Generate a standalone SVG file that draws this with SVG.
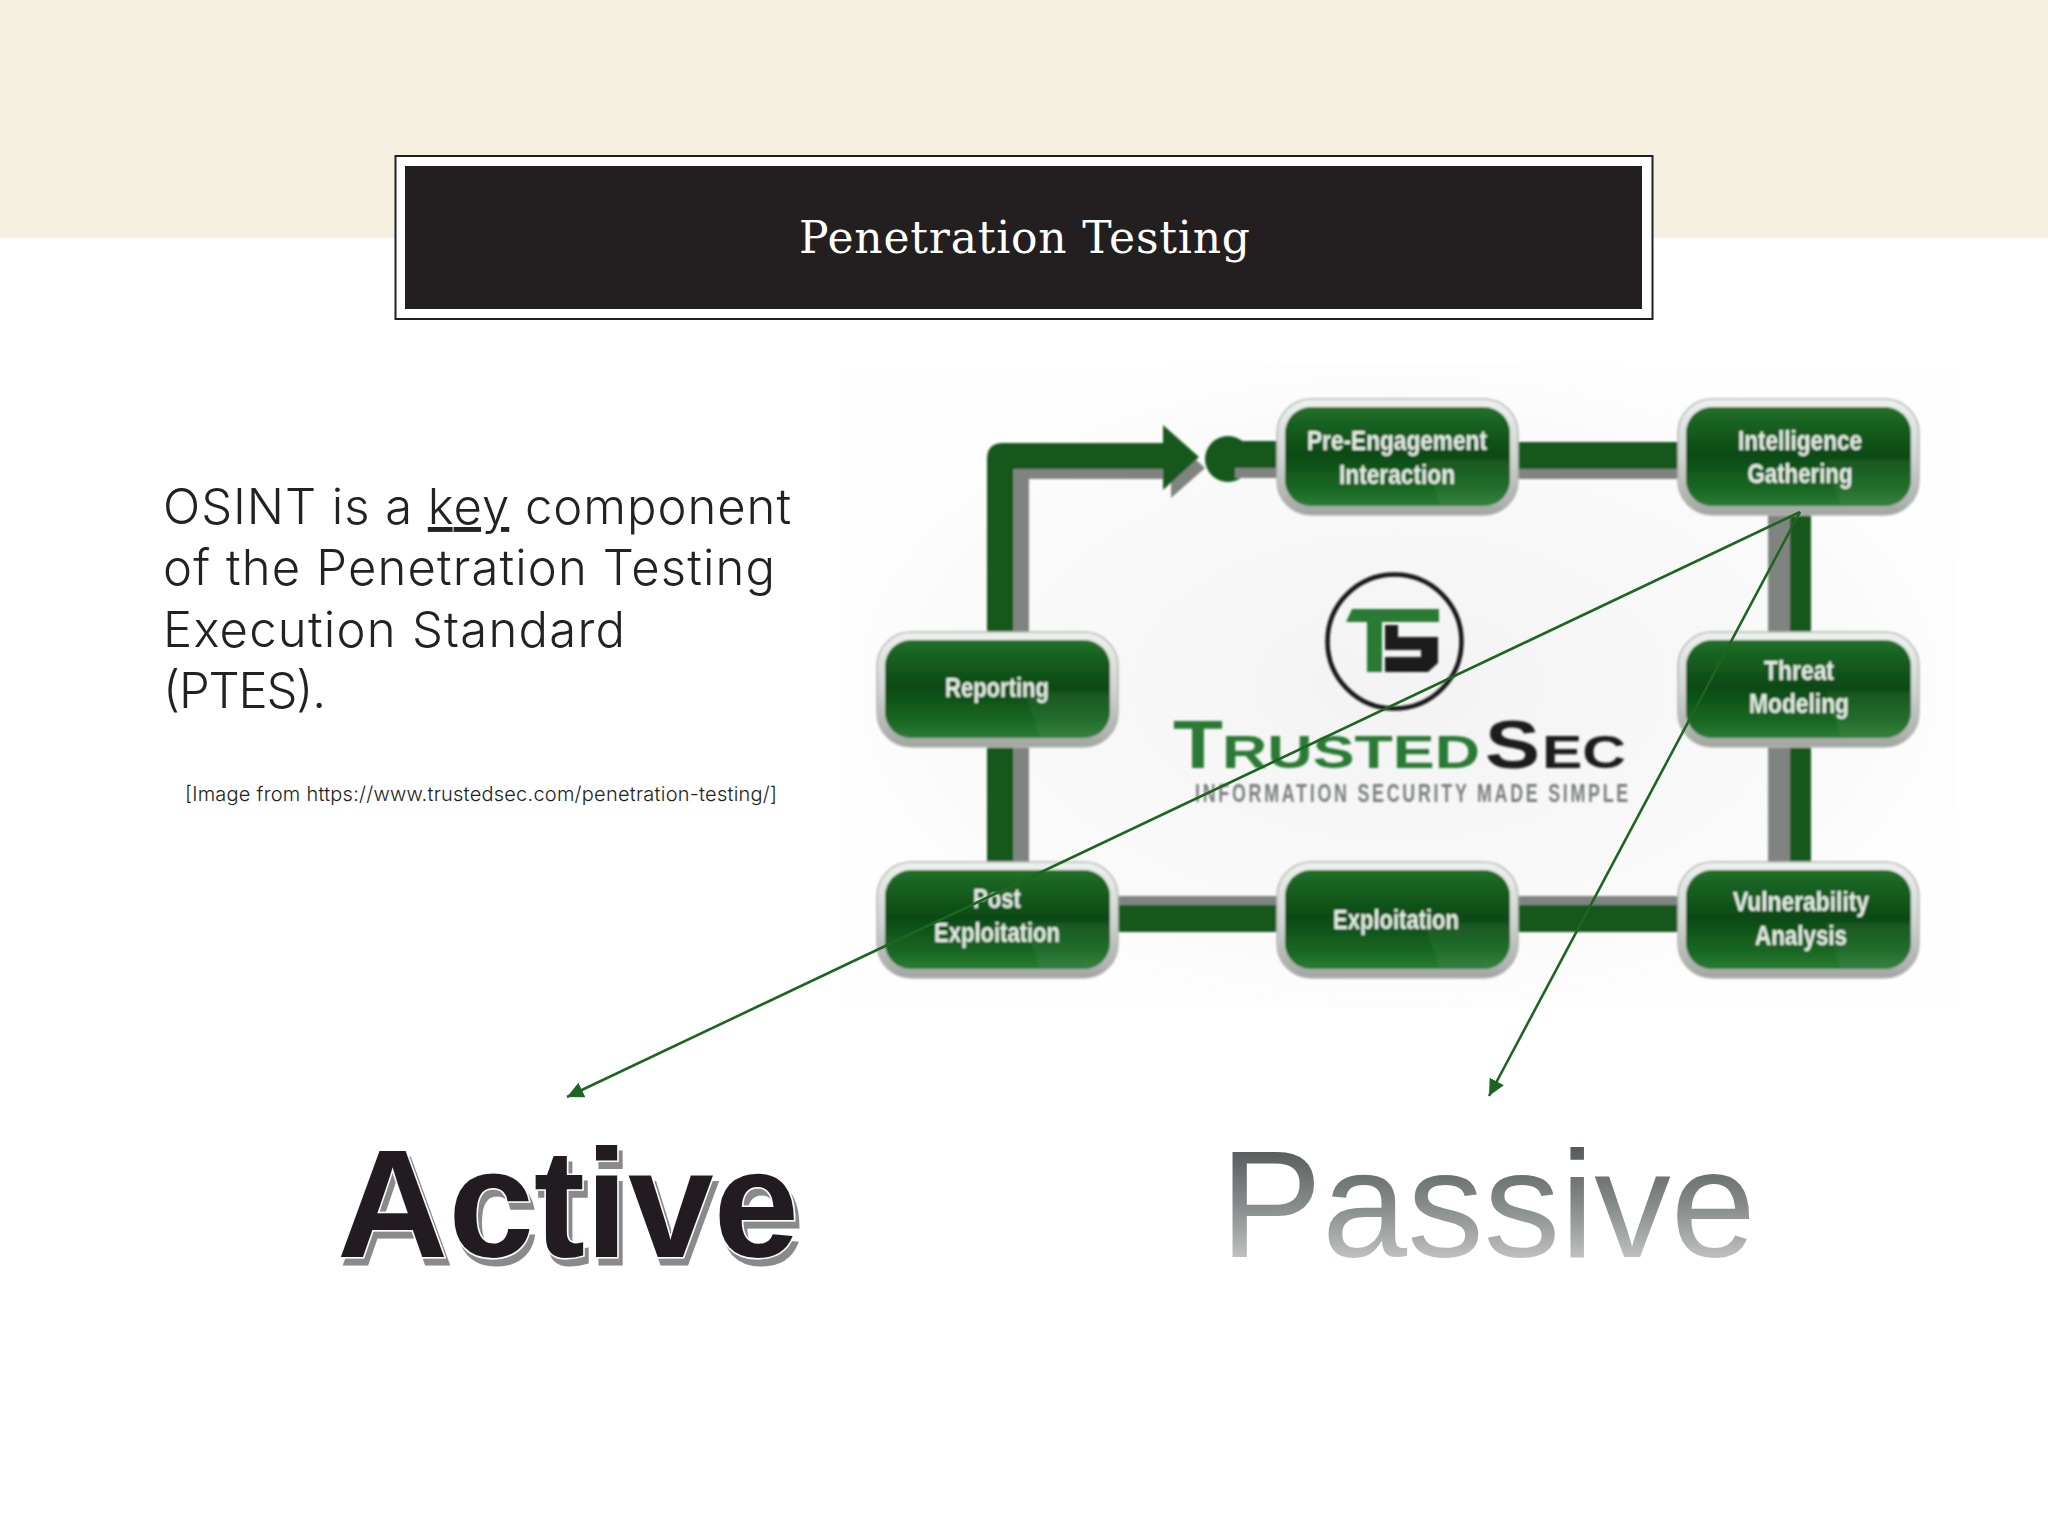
<svg xmlns="http://www.w3.org/2000/svg" width="2048" height="1536" viewBox="0 0 2048 1536">
<style>
.nodeOuter{fill:url(#silver);stroke:#b4b8b4;stroke-width:1.5}
.nodeInner{fill:url(#green)}
.gloss{fill:#fff;opacity:.05}
.lbl{font-family:"Liberation Sans",Arial,sans-serif;font-size:27px;font-weight:700;fill:#e6eee6;text-anchor:middle}
.bar{fill:#14591e}
.shade{fill:#808480}
.body{font-family:"Inter","Lato",sans-serif;font-weight:300;font-size:49px;fill:#222}
.conn{fill:none;stroke:#1c6621;stroke-width:2.6;marker-end:url(#tri)}
</style>
<defs>
<linearGradient id="silver" x1="0" y1="0" x2="0" y2="1"><stop offset="0" stop-color="#eef2ee"/><stop offset=".5" stop-color="#d0d4d0"/><stop offset="1" stop-color="#a2a6a2"/></linearGradient>
<linearGradient id="green" x1="0" y1="0" x2="0" y2="1"><stop offset="0" stop-color="#257229"/><stop offset=".12" stop-color="#1a6524"/><stop offset=".48" stop-color="#0b4a13"/><stop offset=".82" stop-color="#186723"/><stop offset="1" stop-color="#2b7c35"/></linearGradient>
<linearGradient id="passiveFill" gradientUnits="userSpaceOnUse" x1="0" y1="1147" x2="0" y2="1262"><stop offset="0" stop-color="#565a5a"/><stop offset=".5" stop-color="#858a8a"/><stop offset="1" stop-color="#c4c4c4"/></linearGradient>
<radialGradient id="imgBg" cx=".5" cy=".5" r=".55"><stop offset="0" stop-color="#f3f3f3"/><stop offset=".7" stop-color="#fafafa"/><stop offset="1" stop-color="#fefefe"/></radialGradient>
<filter id="soft" x="-2%" y="-2%" width="104%" height="104%"><feGaussianBlur stdDeviation=".8"/></filter>
<filter id="activeShadow" x="-5%" y="-5%" width="110%" height="115%"><feOffset in="SourceAlpha" dx="4" dy="7" result="o"/><feFlood flood-color="#8a8a8a"/><feComposite in2="o" operator="in"/><feMerge><feMergeNode/><feMergeNode in="SourceGraphic"/></feMerge></filter>
<marker id="tri" markerUnits="userSpaceOnUse" markerWidth="18" markerHeight="16" refX="16.500" refY="8" orient="auto"><path d="M0 0L16.500 8L0 16Z" fill="#1c6621"/></marker>
</defs>

<rect width="2048" height="1536" fill="#fff"/>
<rect id="topBand" width="2048" height="238" fill="#f5f0df"/>

<g id="titleBox">
<rect x="395.500" y="156" width="1257" height="163" fill="#fff" stroke="#231f20" stroke-width="2"/>
<rect x="405" y="166" width="1237" height="143" fill="#231f20"/>
<text x="1024.500" y="253" font-family="'DejaVu Serif','Liberation Serif',serif" font-size="44" fill="#fff" text-anchor="middle" textLength="451">Penetration Testing</text>
</g>

<g id="bodyText">
<text class="body" x="163" y="524" textLength="628">OSINT is a <tspan text-decoration="underline">key</tspan> component</text>
<text class="body" x="163" y="585" textLength="612">of the Penetration Testing</text>
<text class="body" x="163" y="647" textLength="462">Execution Standard</text>
<text class="body" x="163" y="708" textLength="163">(PTES).</text>
<text x="185" y="801" font-family="'Inter','Lato',sans-serif" font-weight="300" font-size="20" fill="#222" textLength="592">[Image from https://www.trustedsec.com/penetration-testing/]</text>
</g>

<rect id="chartBackground" x="840" y="366" width="1116" height="642" fill="url(#imgBg)"/>

<g id="chart" filter="url(#soft)">
<g id="loopBars">
<path class="shade" d="M1013.500 469H1180V479H1029V632H1013.500Z"/>
<path class="bar" d="M987 632V459Q987 443 1003 443H1170V469H1013.500V632Z"/>
<path class="shade" d="M1013.500 747H1029V862H1013.500Z"/>
<rect class="bar" x="987" y="747" width="26.500" height="115"/>
<path class="shade" d="M1169 435L1205 468L1171 498L1171 470Z"/>
<path class="bar" d="M1163 425L1199 457L1163 490Z"/>
<circle class="bar" cx="1228" cy="459" r="23"/>
<rect class="shade" x="1235" y="468" width="45" height="10"/>
<rect class="bar" x="1235" y="441" width="45" height="27"/>
<rect class="shade" x="1516" y="469" width="165" height="10"/>
<rect class="bar" x="1516" y="442" width="165" height="27"/>
<rect class="shade" x="1768" y="514" width="22" height="120"/>
<rect class="bar" x="1790" y="514" width="21" height="120"/>
<rect class="shade" x="1768" y="746" width="22" height="118"/>
<rect class="bar" x="1790" y="746" width="21" height="118"/>
<rect class="shade" x="1117" y="896" width="162" height="9"/>
<rect class="bar" x="1117" y="905" width="162" height="27"/>
<rect class="shade" x="1516" y="896" width="165" height="9"/>
<rect class="bar" x="1516" y="905" width="165" height="27"/>
</g>

<g id="pre-engagement"><rect class="nodeOuter" x="1277" y="399" width="241" height="116" rx="34"/><rect class="nodeInner" x="1285" y="407" width="225" height="99" rx="26"/><path class="gloss" d="M1440 506L1425 460H1510V506Z"/><text class="lbl" x="1397" y="450" textLength="180" lengthAdjust="spacingAndGlyphs">Pre-Engagement</text><text class="lbl" x="1397" y="484" textLength="116" lengthAdjust="spacingAndGlyphs">Interaction</text></g>
<g id="intelligence"><rect class="nodeOuter" x="1678" y="399" width="241" height="116" rx="34"/><rect class="nodeInner" x="1686" y="407" width="225" height="99" rx="26"/><path class="gloss" d="M1841 506L1826 460H1911V506Z"/><text class="lbl" x="1800" y="450" textLength="124" lengthAdjust="spacingAndGlyphs">Intelligence</text><text class="lbl" x="1800" y="483" textLength="105" lengthAdjust="spacingAndGlyphs">Gathering</text></g>
<g id="threat"><rect class="nodeOuter" x="1678" y="632" width="241" height="115" rx="34"/><rect class="nodeInner" x="1686" y="640" width="225" height="98" rx="26"/><path class="gloss" d="M1841 738L1826 692H1911V738Z"/><text class="lbl" x="1799" y="680" textLength="70" lengthAdjust="spacingAndGlyphs">Threat</text><text class="lbl" x="1799" y="713" textLength="100" lengthAdjust="spacingAndGlyphs">Modeling</text></g>
<g id="vulnerability"><rect class="nodeOuter" x="1678" y="862" width="241" height="116" rx="34"/><rect class="nodeInner" x="1686" y="870" width="225" height="99" rx="26"/><path class="gloss" d="M1841 969L1826 923H1911V969Z"/><text class="lbl" x="1801" y="911" textLength="136" lengthAdjust="spacingAndGlyphs">Vulnerability</text><text class="lbl" x="1801" y="945" textLength="92" lengthAdjust="spacingAndGlyphs">Analysis</text></g>
<g id="exploitation"><rect class="nodeOuter" x="1277" y="862" width="241" height="116" rx="34"/><rect class="nodeInner" x="1285" y="870" width="225" height="99" rx="26"/><path class="gloss" d="M1440 969L1425 923H1510V969Z"/><text class="lbl" x="1396" y="929" textLength="126" lengthAdjust="spacingAndGlyphs">Exploitation</text></g>
<g id="post-exploitation"><rect class="nodeOuter" x="877" y="862" width="241" height="116" rx="34"/><rect class="nodeInner" x="885" y="870" width="225" height="99" rx="26"/><path class="gloss" d="M1040 969L1025 923H1110V969Z"/><text class="lbl" x="997" y="908" textLength="48" lengthAdjust="spacingAndGlyphs">Post</text><text class="lbl" x="997" y="942" textLength="126" lengthAdjust="spacingAndGlyphs">Exploitation</text></g>
<g id="reporting"><rect class="nodeOuter" x="877" y="632" width="241" height="115" rx="34"/><rect class="nodeInner" x="885" y="640" width="225" height="98" rx="26"/><path class="gloss" d="M1040 738L1025 692H1110V738Z"/><text class="lbl" x="997" y="697" textLength="104" lengthAdjust="spacingAndGlyphs">Reporting</text></g>

<g id="logo">
<circle cx="1394.500" cy="641.500" r="67" fill="none" stroke="#151515" stroke-width="4.500"/>
<path d="M1352 609H1439V622H1382V672H1367V622H1346Z" fill="#2a7a35"/>
<path d="M1385 625H1398V637H1438V663L1428 672H1385V657H1421V650H1385Z" fill="#1c1c1e"/>
<g font-family="'Liberation Sans',Arial,sans-serif" font-weight="700">
<text x="1173" y="768" font-size="68" fill="#2a7a35" textLength="50" lengthAdjust="spacingAndGlyphs">T</text>
<text x="1222" y="768" font-size="47" fill="#2a7a35" textLength="258" lengthAdjust="spacingAndGlyphs">RUSTED</text>
<text x="1485" y="768" font-size="68" fill="#1c1c1e" textLength="55" lengthAdjust="spacingAndGlyphs">S</text>
<text x="1542" y="768" font-size="47" fill="#1c1c1e" textLength="84" lengthAdjust="spacingAndGlyphs">EC</text>
<text x="1195" y="802" font-size="26" fill="#7c7f7f" letter-spacing="4" textLength="436" lengthAdjust="spacingAndGlyphs">INFORMATION SECURITY MADE SIMPLE</text>
</g>
</g>
</g>

<g id="connectors">
<line class="conn" x1="1800" y1="512" x2="567" y2="1097"/>
<line class="conn" x1="1800" y1="512" x2="1489" y2="1096"/>
</g>

<g id="active"><text x="337" y="1257" font-family="'Liberation Sans',Arial,sans-serif" font-weight="700" font-size="154" fill="#231f20" stroke="#fff" stroke-width="3" paint-order="stroke" stroke-linejoin="miter" filter="url(#activeShadow)">Active</text></g>
<g id="passive"><text x="1220" y="1257" font-family="'Liberation Sans',Arial,sans-serif" font-size="153" fill="url(#passiveFill)">Passive</text></g>
</svg>
